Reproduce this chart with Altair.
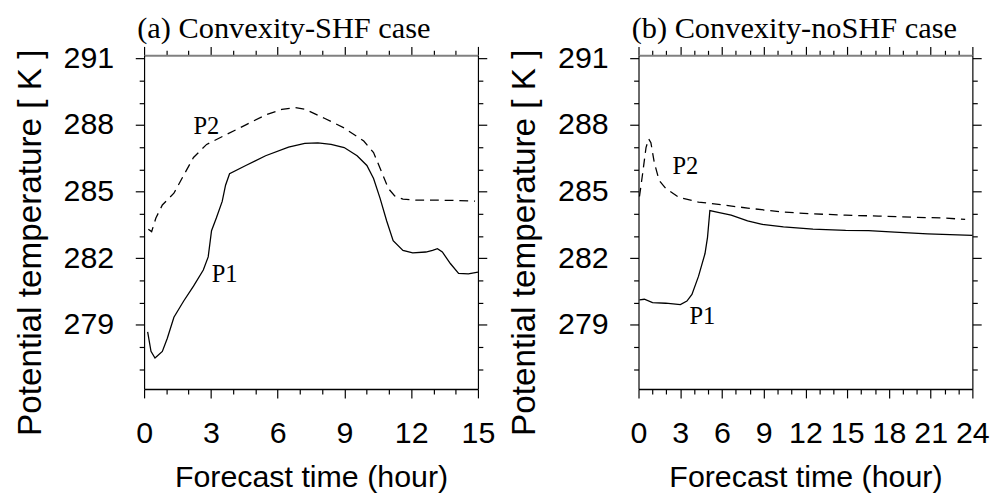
import altair as alt
import pandas as pd

# ---- Panel (a): Convexity-SHF case ----
a_p1_hour = [0.16, 0.31, 0.49, 0.82, 1.04, 1.34, 1.78, 2.22, 2.66, 2.88, 3.03, 3.25, 3.51, 3.66, 3.84,
             4.57, 5.46, 6.49, 7.22, 7.81, 8.4, 8.99, 9.57, 10.01, 10.31, 10.6, 10.9, 11.19, 11.63,
             12.07, 12.66, 12.96, 13.18, 13.4, 13.76, 14.13, 14.57, 15.0]
a_p1_theta = [278.68, 277.8, 277.5, 277.8, 278.38, 279.34, 280.07, 280.74, 281.47, 282.06, 283.24, 283.82,
              284.56, 285.29, 285.81, 286.18, 286.62, 287.01, 287.18, 287.2, 287.13, 286.99, 286.62,
              286.18, 285.59, 284.71, 283.68, 282.79, 282.35, 282.24, 282.28, 282.35, 282.43, 282.28,
              281.76, 281.32, 281.29, 281.37]
a_p2_hour = [0.19, 0.34, 0.53, 0.82, 1.34, 1.78, 2.22, 2.81, 3.69, 4.57, 5.46, 6.19, 6.78, 7.22, 8.1,
             8.99, 9.87, 10.31, 10.68, 10.97, 11.26, 11.63, 12.22, 13.1, 13.99, 14.87]
a_p2_theta = [283.31, 283.2, 283.81, 284.4, 284.93, 285.74, 286.54, 287.13, 287.57, 288.01, 288.46, 288.71,
              288.79, 288.72, 288.31, 287.87, 287.28, 286.76, 285.87, 285.15, 284.81, 284.66, 284.62,
              284.62, 284.6, 284.57]
a_label_text = ["P2", "P1"]
a_label_hour = [2.8, 3.62]
a_label_theta = [287.95, 281.27]

# ---- Panel (b): Convexity-noSHF case ----
b_p1_hour = [0.07, 0.42, 1.01, 1.95, 3.01, 3.48, 3.84, 4.31, 4.78, 4.96, 5.13, 5.72, 6.66, 7.84, 8.89,
             10.42, 12.54, 14.89, 16.54, 18.42, 20.78, 24.0]
b_p1_theta = [280.12, 280.15, 280.0, 279.97, 279.91, 280.07, 280.37, 281.18, 282.21, 282.94, 284.15,
              284.07, 283.94, 283.68, 283.53, 283.41, 283.31, 283.25, 283.24, 283.18, 283.1, 283.03]
b_p2_hour = [0.07, 0.31, 0.54, 0.73, 0.89, 1.13, 1.48, 1.95, 2.89, 4.31, 5.95, 7.84, 10.19, 12.54,
             14.89, 17.25, 19.6, 21.95, 23.48]
b_p2_theta = [284.78, 285.88, 286.99, 287.38, 287.21, 286.32, 285.51, 285.15, 284.75, 284.53, 284.41,
              284.26, 284.09, 284.0, 283.94, 283.9, 283.85, 283.81, 283.75]
b_label_text = ["P2", "P1"]
b_label_hour = [3.37, 4.59]
b_label_theta = [286.13, 279.39]

y_ticks = list(range(277, 292))
y_domain = [276.1, 291.15]

SANS = "Liberation Sans"
SERIF = "Liberation Serif"


def panel(title, p1h, p1v, p2h, p2v, lt, lh, lv, xmax):
    df1 = pd.DataFrame({"t": p1h, "v": p1v})
    df2 = pd.DataFrame({"t": p2h, "v": p2v})
    dfl = pd.DataFrame({"t": lh, "v": lv, "label": lt})
    x_ticks = list(range(0, xmax + 1))
    xs = alt.Scale(domain=[0, xmax], nice=False, zero=False)
    ys = alt.Scale(domain=y_domain, nice=False, zero=False)
    tick_cond = {"condition": {"test": "datum.value % 3 === 0", "value": 9}, "value": 5}
    common = dict(tickColor="black", tickWidth=1.2,
                  tickSize=tick_cond, grid=False, labelFont=SANS, labelColor="black",
                  titleFont=SANS, titleColor="black", titleFontWeight="normal",
                  labelOverlap=False, labelFlush=False, labelBound=False)
    lab_expr = "datum.value % 3 === 0 ? datum.label : ''"
    xb = alt.Axis(orient="bottom", values=x_ticks, labelExpr=lab_expr, labelFontSize=31,
                  labelPadding=22, title="Forecast time (hour)", titleFontSize=31,
                  titlePadding=15, domainColor="black", domainWidth=1.5, **common)
    yl = alt.Axis(orient="left", values=y_ticks, labelExpr=lab_expr, labelFontSize=31,
                  labelPadding=22, title="Potential temperature [ K ]", titleFontSize=34,
                  titleX=-116, titleY=191, titleAngle=270, titleBaseline="middle",
                  titleAlign="center", domainColor="black", domainWidth=1.2, **common)
    xt = alt.Axis(orient="top", values=x_ticks, labels=False, title=None,
                  domainColor="#808080", domainWidth=2, **common)
    yr = alt.Axis(orient="right", values=y_ticks, labels=False, title=None,
                  domainColor="black", domainWidth=1.2, **common)

    l1 = alt.Chart(df1).mark_line(color="black", strokeWidth=1.3).encode(
        x=alt.X("t:Q", scale=xs, axis=xb), y=alt.Y("v:Q", scale=ys, axis=yl))
    l2 = alt.Chart(df2).mark_line(color="black", strokeWidth=1.3, strokeDash=[9, 6]).encode(
        x=alt.X("t:Q", scale=xs, axis=xt), y=alt.Y("v:Q", scale=ys, axis=yr))
    tx = alt.Chart(dfl).mark_text(font=SERIF, fontSize=25, color="black").encode(
        x=alt.X("t:Q", scale=xs, axis=None), y=alt.Y("v:Q", scale=ys, axis=None),
        text="label:N")
    return alt.layer(l1, l2, tx).resolve_axis(x="independent", y="independent").properties(
        width=341, height=341,
        title=alt.TitleParams(text=title, font=SERIF, fontSize=31, fontWeight="normal",
                              anchor="start", frame="group", dx=-7, offset=-26,
                              baseline="alphabetic", color="black"))


left = panel("(a) Convexity-SHF case", a_p1_hour, a_p1_theta, a_p2_hour, a_p2_theta,
             a_label_text, a_label_hour, a_label_theta, 15)
right = panel("(b) Convexity-noSHF case", b_p1_hour, b_p1_theta, b_p2_hour, b_p2_theta,
              b_label_text, b_label_hour, b_label_theta, 24)

chart = alt.hconcat(left, right, spacing=12).configure_view(stroke=None).properties(
    padding={"left": 5, "top": 0, "right": 0, "bottom": 0}, background="white")

chart.save("out.html", embed_options={"renderer": "svg", "actions": False})
